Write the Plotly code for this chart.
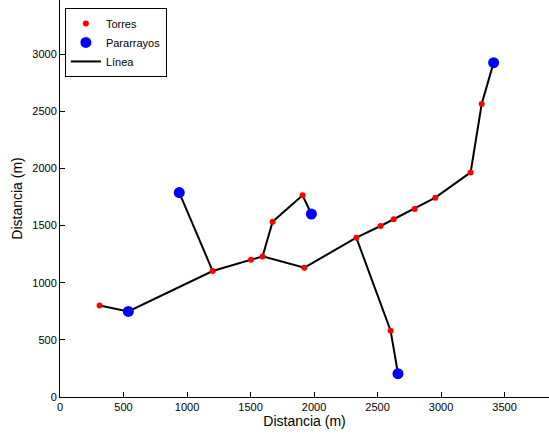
import plotly.graph_objects as go

# Torres (red points)
torres_x = [312, 1202, 1504, 1595, 1674, 1910, 1924, 2333, 2524, 2627, 2792, 2955, 3233, 3320, 2603]
torres_y = [801, 1102, 1201, 1230, 1534, 1764, 1131, 1394, 1496, 1554, 1645, 1744, 1965, 2563, 580]

# Pararrayos (blue points)
para_x = [538, 939, 1979, 3414, 2661]
para_y = [749, 1788, 1601, 2925, 204]

# Línea: polyline branches (None separates branches)
linea_x = [312, 538, 1202, 1504, 1595, 1924, 2333, 2524, 2627, 2792, 2955, 3233, 3320, 3414, None,
           1202, 939, None,
           1595, 1674, 1910, 1979, None,
           2333, 2603, 2661]
linea_y = [801, 749, 1102, 1201, 1230, 1131, 1394, 1496, 1554, 1645, 1744, 1965, 2563, 2925, None,
           1102, 1788, None,
           1230, 1534, 1764, 1601, None,
           1394, 580, 204]

x_ticks = [0, 500, 1000, 1500, 2000, 2500, 3000, 3500]
y_ticks = [0, 500, 1000, 1500, 2000, 2500, 3000]

fig = go.Figure()
fig.add_trace(go.Scatter(x=linea_x, y=linea_y, mode="lines", name="Línea",
                         line=dict(color="black", width=2), legendrank=3))
fig.add_trace(go.Scatter(x=torres_x, y=torres_y, mode="markers", name="Torres",
                         marker=dict(color="#ff0000", size=6), legendrank=1))
fig.add_trace(go.Scatter(x=para_x, y=para_y, mode="markers", name="Pararrayos",
                         marker=dict(color="#0000ff", size=11), legendrank=2))

font = "Liberation Sans, Arial, sans-serif"
fig.update_layout(
    width=549, height=435,
    margin=dict(l=60, r=0, t=0, b=38),
    paper_bgcolor="white", plot_bgcolor="white",
    font=dict(family=font, size=11, color="black"),
    showlegend=True,
    legend=dict(x=0.01, y=0.98, xanchor="left", yanchor="top",
                bgcolor="white", bordercolor="black", borderwidth=1,
                font=dict(size=11), tracegroupgap=0),
    xaxis=dict(range=[0, 3850], tickvals=x_ticks, ticks="inside", ticklen=5,
               tickcolor="black", showline=True, linecolor="black", linewidth=1,
               showgrid=False, zeroline=False, automargin=False,
               title=dict(text="Distancia (m)", font=dict(size=14), standoff=2)),
    yaxis=dict(range=[0, 3473], tickvals=y_ticks, ticks="inside", ticklen=5,
               tickcolor="black", showline=True, linecolor="black", linewidth=1,
               showgrid=False, zeroline=False, automargin=False,
               title=dict(text="Distancia (m)", font=dict(size=14), standoff=6)),
)

fig.write_html("out.html", config={"displayModeBar": False},
               post_script="document.body.style.margin='0px';document.body.style.overflow='hidden';")
